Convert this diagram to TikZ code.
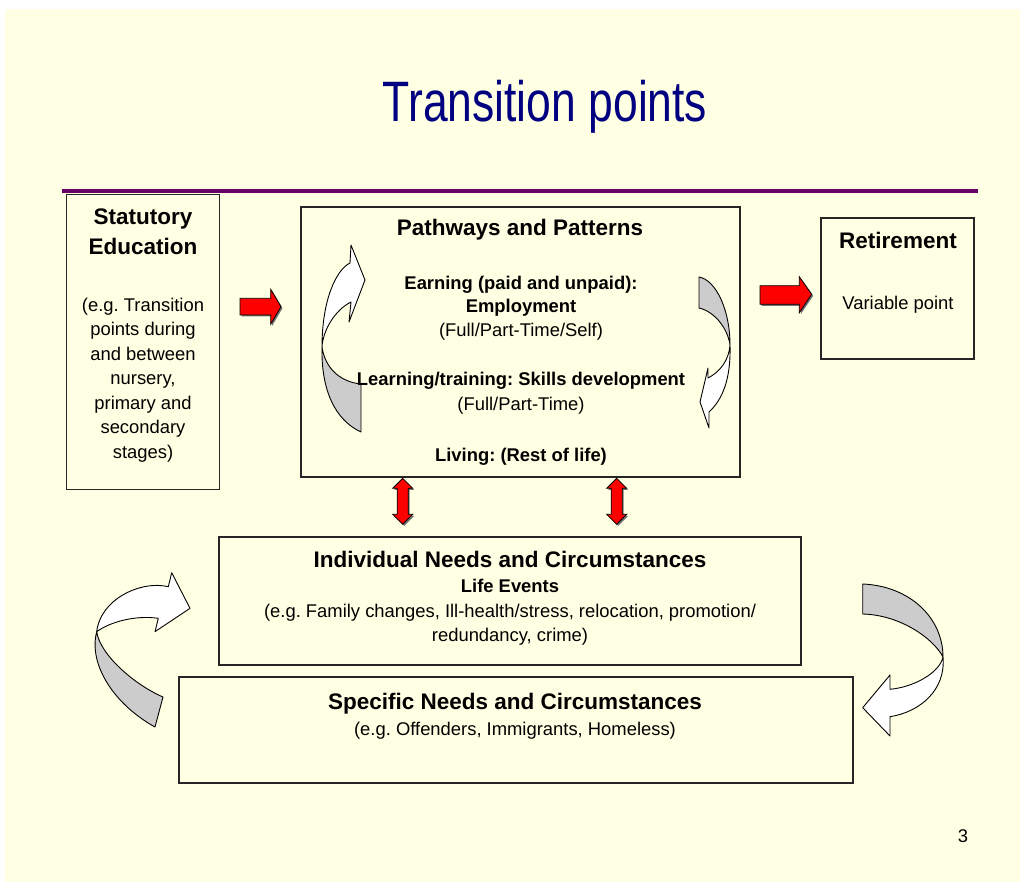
\documentclass[tikz,border=0pt]{standalone}
\usepackage{fontspec}
\setmainfont{Liberation Sans}
\frenchspacing
\definecolor{bg}{HTML}{FFFFE3}
\definecolor{navy}{HTML}{000080}
\definecolor{rule}{HTML}{660066}
\definecolor{band}{HTML}{CCCCCC}
\tikzset{
  box/.style={draw=black!85, line width=1.1pt, fill=bg, inner sep=0pt, outer sep=0pt, anchor=north west},
  head/.style={font=\bfseries\fontsize{22.5}{26}\selectfont, anchor=base, inner sep=0pt},
  bbody/.style={font=\bfseries\fontsize{18.4}{24}\selectfont, anchor=base, inner sep=0pt},
  body/.style={font=\fontsize{18.4}{24}\selectfont, anchor=base, inner sep=0pt},
  redarrow/.style={fill=red, draw=black, line width=0.8pt, line join=miter},
  shadowarrow/.style={fill=black!55},
  bandwhite/.style={fill=white, draw=black, line width=0.9pt, line join=round},
  bandgray/.style={fill=band, draw=black, line width=0.9pt, line join=round},
}
\begin{document}
\begin{tikzpicture}[x=1pt,y=-1pt]
\useasboundingbox (0,0) rectangle (1020,882);
\fill[white] (0,0) rectangle (1020,882);
\fill[bg] (5,9) rectangle (1020,882);

% title and rule
\node[anchor=base, inner sep=0pt, text=navy, font=\fontsize{57}{60}\selectfont] (title) at (545,122) {\scalebox{0.78}[1]{Transition points}};
\draw[rule, line width=4.5pt] (62,191) coordinate (ruleL) -- (978,191) coordinate (ruleR);

% boxes
\node[box, minimum width=152.6pt, minimum height=295pt] (stat) at (66.7,194.3) {};
\node[box, minimum width=439pt, minimum height=270pt] (path) at (301,207) {};
\node[box, minimum width=153pt, minimum height=141pt] (ret) at (821,218) {};
\node[box, minimum width=582pt, minimum height=128pt] (indiv) at (219,537) {};
\node[box, minimum width=674pt, minimum height=106pt] (spec) at (179,677) {};

% curved arrows inside pathways (behind text)
\path[bandgray] (322,347) .. controls (321,390) and (335,420) .. (361,432) -- (361,384) .. controls (340,382) and (325,368) .. (322,347) -- cycle;
\path[bandwhite] (350,263) .. controls (336,270) and (322,300) .. (322,347) .. controls (323,330) and (335,310) .. (351,302) -- (349,322) -- (365,280) -- (351,245) -- cycle;
\path[bandgray] (699,277) .. controls (716,280) and (730,310) .. (730,345) .. controls (728,330) and (716,312) .. (699,308) -- cycle;
\path[bandwhite] (730,345) .. controls (731,380) and (722,400) .. (709,412) -- (709,428) -- (700,402) -- (708,368) -- (708,378) .. controls (720,372) and (729,360) .. (730,345) -- cycle;

% statutory education text
\node[head] (st1) at (143,225) {Statutory};
\node[head] (st2) at (143,255) {Education};
\foreach \t [count=\i] in {{(e.g. Transition}, {points during}, {and between}, {nursery,}, {primary and}, {secondary}, {stages)}}
  \node[body] (sb\i) at (143,{311.6+24.4*(\i-1)}) {\t};

% pathways text
\node[head] (p0) at (520,236) {Pathways and Patterns};
\node[bbody] (p1) at (521,289.5) {Earning (paid and unpaid):};
\node[bbody] (p2) at (521,313) {Employment};
\node[body] (p3) at (521,337) {(Full/Part-Time/Self)};
\node[bbody] (p4) at (521,385.5) {Learning/training: Skills development};
\node[body] (p5) at (521,410.5) {(Full/Part-Time)};
\node[bbody] (p6) at (521,461) {Living: (Rest of life)};

% retirement text
\node[head] (r1) at (898,249) {Retirement};
\node[body] (r2) at (898,309.6) {Variable point};

% individual needs text
\node[head] (i1) at (510,567) {Individual Needs and Circumstances};
\node[bbody] (i2) at (510,592.6) {Life Events};
\node[body] (i3) at (510,617.6) {(e.g. Family changes, Ill-health/stress, relocation, promotion/};
\node[body] (i4) at (510,641.6) {redundancy, crime)};

% specific needs text
\node[head] (s1) at (515,709) {Specific Needs and Circumstances};
\node[body] (s2) at (515,735.6) {(e.g. Offenders, Immigrants, Homeless)};

% page number
\node[body] (pg) at (963,842.6) {3};

% red block arrows (with shadow)
\foreach \dx/\sty in {1.5/shadowarrow, 0/redarrow}{
  \path[\sty, shift={(\dx,\dx)}] (240,298.3) -- (270.7,298.3) -- (270.7,289.3) -- (281,306.7) -- (270.7,324.3) -- (270.7,315) -- (240,315) -- cycle;
  \path[\sty, shift={(\dx,\dx)}] (760,285.7) -- (799.3,285.7) -- (799.3,276.7) -- (811.7,294.3) -- (799.3,312.7) -- (799.3,304.3) -- (760,304.3) -- cycle;
  \foreach \x in {402.7,616.7}
    \path[\sty, shift={(\dx,\dx)}] (\x,478.3) -- (\x+10,488.3) -- (\x+5.5,488.3) -- (\x+5.5,514.3) -- (\x+10,514.3) -- (\x,524.3) -- (\x-10,514.3) -- (\x-5.5,514.3) -- (\x-5.5,488.3) -- (\x-10,488.3) -- cycle;
}

% bottom-left curved arrow
\path[bandgray] (96.7,631.7) .. controls (88,665) and (115,705) .. (155,727) -- (163,697) .. controls (135,685) and (100,655) .. (96.7,631.7) -- cycle;
\path[bandwhite] (168.3,586.7) .. controls (140,580) and (100,600) .. (96.7,631.7) .. controls (110,622) and (135,615) .. (158.3,618.3) -- (155,631.7) -- (190,608.3) -- (171.7,572.7) -- cycle;

% bottom-right curved arrow
\path[bandgray] (862.7,584) .. controls (910,586) and (943,618) .. (943,657) .. controls (933,638) and (900,615) .. (862.7,614) -- cycle;
\path[bandwhite] (943,657) .. controls (946,690) and (920,712) .. (890,716.7) -- (890,736) -- (862.7,707.7) -- (890,675) -- (890,689.3) .. controls (915,687) and (940,672) .. (943,657) -- cycle;
\end{tikzpicture}
\end{document}
